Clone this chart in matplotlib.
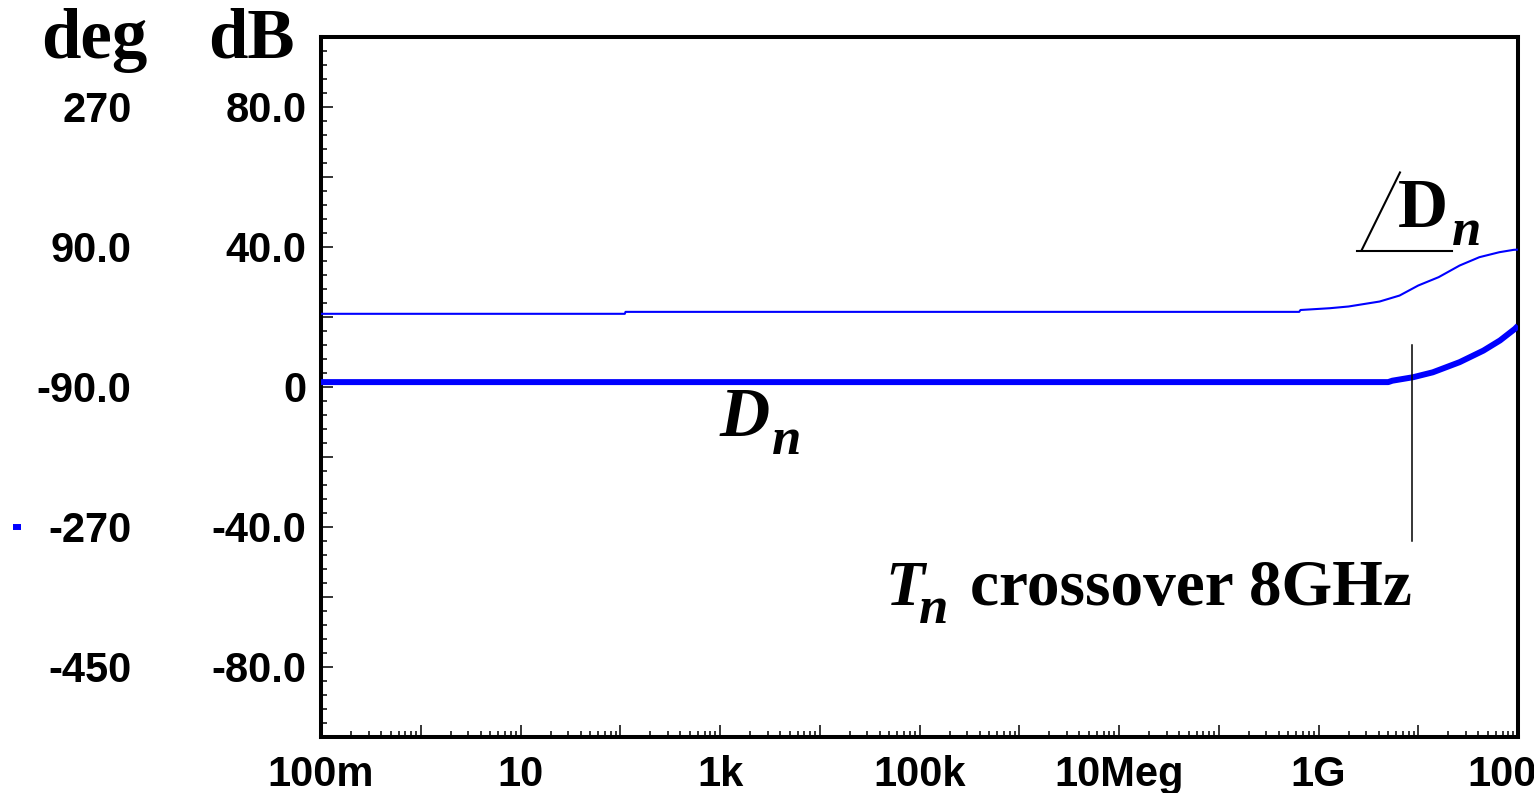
import matplotlib
matplotlib.use("Agg")
import matplotlib.pyplot as plt
from matplotlib.ticker import FixedLocator, FixedFormatter, MultipleLocator, LogLocator, NullFormatter
from matplotlib.lines import Line2D

plt.rcParams["font.family"] = ["Liberation Sans", "DejaVu Sans"]

# =========================
# DATA
# =========================

# |Dn| magnitude in dB
mag_freq = [0.1, 5.0e9, 5.5e9, 8.9e9, 1.4e10, 2.6e10, 4.5e10, 6.6e10, 9.3e10, 1.0e11]
mag_db = [1.4, 1.4, 1.8, 2.8, 4.2, 7.1, 10.4, 13.3, 16.6, 17.5]

# phase of Dn in degrees
phase_freq = [0.1, 111, 113, 6.4e8, 6.6e8, 1.3e9, 2.0e9, 4.1e9, 6.5e9, 1.0e10,
              1.6e10, 2.6e10, 4.1e10, 6.5e10, 9.1e10, 1.0e11]
phase_deg = [4.1, 4.1, 6.6, 6.6, 9.0, 11.3, 13.5, 19.9, 27.6, 40.5,
             51.2, 66.2, 76.9, 83.3, 86.4, 86.6]

x_ticks = [0.1, 1, 10, 100, 1e3, 1e4, 1e5, 1e6, 1e7, 1e8, 1e9, 1e10, 1e11]
x_labels = ["100m", "", "10", "", "1k", "", "100k", "", "10Meg", "", "1G", "", "100G"]

db_ticks = [-100, -80, -60, -40, -20, 0, 20, 40, 60, 80, 100]
db_labels = ["", "-80.0", "", "-40.0", "", "0", "", "40.0", "", "80.0", ""]

deg_ticks = [-450, -270, -90, 90, 270]
deg_labels = ["-450", "-270", "-90.0", "90.0", "270"]

crossover_hz = 8.65e9

# =========================
# FIGURE
# =========================

W, H = 1534, 793
fig = plt.figure(figsize=(W / 100, H / 100), dpi=100)
ax = fig.add_axes([321 / W, 1 - 737 / H, 1197 / W, 700 / H])

ax.set_xscale("log")
ax.set_xlim(0.1, 1e11)
ax.set_ylim(-100, 100)

ax.plot(mag_freq, mag_db, color="#0000ff", lw=4.3, solid_capstyle="butt", zorder=3)

for s in ax.spines.values():
    s.set_linewidth(2.9)

ax.xaxis.set_major_locator(FixedLocator(x_ticks))
ax.xaxis.set_major_formatter(FixedFormatter(x_labels))
ax.xaxis.set_minor_locator(LogLocator(base=10, subs=range(2, 10), numticks=100))
ax.xaxis.set_minor_formatter(NullFormatter())

ax.yaxis.set_major_locator(FixedLocator(db_ticks))
ax.yaxis.set_major_formatter(FixedFormatter(db_labels))
ax.yaxis.set_minor_locator(MultipleLocator(4))

ax.tick_params(which="both", direction="in", top=False, right=False, width=1.1)
ax.tick_params(axis="x", which="major", length=8.5, pad=13, labelsize=30)
ax.tick_params(axis="x", which="minor", length=4)
ax.tick_params(axis="y", which="major", length=8.6, pad=10.5, labelsize=30)
ax.tick_params(axis="y", which="minor", length=4.3)
for lab in ax.get_xticklabels() + ax.get_yticklabels():
    lab.set_fontweight("bold")

# phase on a second scale, labelled further left
ax2 = ax.twinx()
ax2.set_ylim(-540, 360)
ax2.plot(phase_freq, phase_deg, color="#0000ff", lw=1.5, zorder=3)
ax2.yaxis.tick_left()
ax2.yaxis.set_major_locator(FixedLocator(deg_ticks))
ax2.yaxis.set_major_formatter(FixedFormatter(deg_labels))
ax2.tick_params(axis="y", length=0, pad=136.5, labelsize=30)
for lab in ax2.get_yticklabels():
    lab.set_fontweight("bold")
for s in ax2.spines.values():
    s.set_visible(False)

# =========================
# ANNOTATIONS
# =========================

serif = "Liberation Serif"

fig.text(94 / W, 1 - 58 / H, "deg", family=serif, weight="bold",
         fontsize=51, ha="center", va="baseline")
fig.text(251 / W, 1 - 58 / H, "dB", family=serif, weight="bold",
         fontsize=51, ha="center", va="baseline")

# small blue marker left of -270
fig.add_artist(Line2D([13 / W, 21 / W], [1 - 526.5 / H, 1 - 526.5 / H],
                      color="#0000ff", lw=4.3, solid_capstyle="butt"))

# D_n under the magnitude curve
ax.text(1000, -13.9, "D", family=serif, style="italic", weight="bold",
        fontsize=50, ha="left", va="baseline")
ax.text(3.3e3, -19.0, "n", family=serif, style="italic", weight="bold",
        fontsize=38, ha="left", va="baseline")

# angle of D_n above the phase curve
ax.text(6.27e9, 45.6, "D", family=serif, weight="bold",
        fontsize=50, ha="left", va="baseline")
ax.text(2.18e10, 40.7, "n", family=serif, style="italic", weight="bold",
        fontsize=38, ha="left", va="baseline")
ax.plot([2.73e9, 6.56e9], [39.3, 61.3], color="black", lw=1.5, clip_on=False)
ax.plot([2.43e9, 2.18e10], [39.0, 39.0], color="black", lw=1.5, clip_on=False)

# crossover marker
ax.plot([crossover_hz, crossover_hz], [11.9, -43.9], color="black", lw=1.1, zorder=4)
ax.text(4.5e4, -62.4, "T", family=serif, style="italic", weight="bold",
        fontsize=46, ha="left", va="baseline")
ax.text(9.9e4, -67.3, "n", family=serif, style="italic", weight="bold",
        fontsize=38, ha="left", va="baseline")
ax.text(crossover_hz, -62.4, "crossover 8GHz", family=serif, weight="bold",
        fontsize=47, ha="right", va="baseline")

fig.savefig("out.png", dpi=100)
